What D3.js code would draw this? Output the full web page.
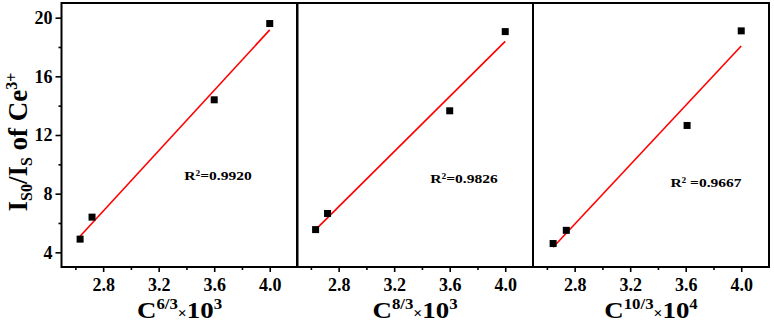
<!DOCTYPE html>
<html>
<head>
<meta charset="utf-8">
<script src="https://cdn.jsdelivr.net/npm/d3@7"></script>
<style>
  body { margin: 0; background: #fff; }
  text { font-family: "Liberation Serif", "Times New Roman", serif; font-weight: bold; fill: #000; }
</style>
</head>
<body>
<script>
// data
const xValues1 = [2.634, 2.72, 3.6, 4.0];
const yValues1 = [4.9, 6.4, 14.4, 19.6];
const xValues2 = [2.634, 2.72, 3.6, 4.0];
const yValues2 = [5.55, 6.65, 13.65, 19.05];
const xValues3 = [2.645, 2.74, 3.61, 4.0];
const yValues3 = [4.6, 5.5, 12.65, 19.1];
const r2Labels = ['R\u00b2=0.9920', 'R\u00b2=0.9826', 'R\u00b2 =0.9667'];
const xTitleMain = ['6/3', '8/3', '10/3'];
const xTitlePow = ['3', '3', '4'];
const xTicks = [2.8, 3.2, 3.6, 4.0];
const xMinorTicks = [2.6, 3.0, 3.4, 3.8];
const yTicks = [4, 8, 12, 16, 20];
const yMinorTicks = [6, 10, 14, 18];

const width = 774;
const height = 323;
const panelLeft = [61.5, 297, 533];
const panelWidth = 236;
const plotTop = 3, plotBottom = 267;

const svg = d3.select('body').append('svg')
  .attr('width', width)
  .attr('height', height);

const yScale = d3.scaleLinear().domain([3, 21]).range([plotBottom, plotTop]);

const panels = [
  {xs: xValues1, ys: yValues1},
  {xs: xValues2, ys: yValues2},
  {xs: xValues3, ys: yValues3}
];

// least squares fit
function fit(xs, ys) {
  const mx = d3.mean(xs), my = d3.mean(ys);
  const sxy = d3.sum(xs, (x, i) => (x - mx) * (ys[i] - my));
  const sxx = d3.sum(xs, x => (x - mx) * (x - mx));
  const b = sxy / sxx;
  return x => my + b * (x - mx);
}

const r2Pos = [[218, 180], [464, 182.5], [706, 186.5]];

panels.forEach((p, k) => {
  const x0 = panelLeft[k];
  const xScale = d3.scaleLinear().domain([2.5, 4.2]).range([x0, x0 + panelWidth]);
  const g = svg.append('g');

  // x axis ticks
  const xAxis = d3.axisBottom(xScale).tickValues(xTicks)
    .tickSize(5).tickPadding(5).tickFormat(d3.format('.1f'));
  const xg = g.append('g').attr('transform', `translate(0,${plotBottom})`).call(xAxis);
  xg.select('.domain').remove();
  xg.selectAll('line').attr('stroke-width', 1.6);
  xg.selectAll('text').attr('font-size', 18).attr('dy', '0.8em')
    .attr('font-family', '"Liberation Serif", serif');

  const xMinor = d3.axisBottom(xScale).tickValues(xMinorTicks).tickSize(3).tickFormat('');
  const xmg = g.append('g').attr('transform', `translate(0,${plotBottom})`).call(xMinor);
  xmg.select('.domain').remove();
  xmg.selectAll('line').attr('stroke-width', 1.6);

  if (k === 0) {
    const yAxis = d3.axisLeft(yScale).tickValues(yTicks).tickSize(6).tickPadding(3);
    const yg = g.append('g').attr('transform', `translate(${x0},0)`).call(yAxis);
    yg.select('.domain').remove();
    yg.selectAll('line').attr('stroke-width', 1.6);
    yg.selectAll('text').attr('font-size', 18)
      .attr('font-family', '"Liberation Serif", serif');
    const yMinor = d3.axisLeft(yScale).tickValues(yMinorTicks).tickSize(3).tickFormat('');
    const ymg = g.append('g').attr('transform', `translate(${x0},0)`).call(yMinor);
    ymg.select('.domain').remove();
    ymg.selectAll('line').attr('stroke-width', 1.6);
  }

  // frame
  g.append('rect')
    .attr('x', x0).attr('y', plotTop)
    .attr('width', panelWidth).attr('height', plotBottom - plotTop)
    .attr('fill', 'none').attr('stroke', '#000').attr('stroke-width', 2);

  // fit line
  const f = fit(p.xs, p.ys);
  const xMin = d3.min(p.xs), xMax = d3.max(p.xs);
  g.append('line')
    .attr('x1', xScale(xMin)).attr('y1', yScale(f(xMin)))
    .attr('x2', xScale(xMax)).attr('y2', yScale(f(xMax)))
    .attr('stroke', '#ff0000').attr('stroke-width', 1.6);

  // points
  g.selectAll('rect.pt')
    .data(p.xs.map((x, i) => [x, p.ys[i]]))
    .enter().append('rect')
    .attr('class', 'pt')
    .attr('x', d => xScale(d[0]) - 3.5)
    .attr('y', d => yScale(d[1]) - 3.5)
    .attr('width', 7).attr('height', 7)
    .attr('fill', '#000');

  // R^2 label
  g.append('text')
    .attr('transform', `translate(${r2Pos[k][0]},${r2Pos[k][1]}) scale(1.15,1)`)
    .attr('text-anchor', 'middle')
    .attr('font-size', 13.5)
    .text(r2Labels[k]);

  // x axis title
  const cx = x0 + panelWidth / 2;
  const t = g.append('text')
    .attr('transform', `translate(${cx},318) scale(1.12,1)`)
    .attr('text-anchor', 'middle')
    .attr('font-size', 24);
  t.append('tspan').text('C');
  t.append('tspan').attr('font-size', 15).attr('dy', -9).text(xTitleMain[k]);
  t.append('tspan').attr('font-size', 14).attr('dy', 9).text('\u00d7');
  t.append('tspan').text('10');
  t.append('tspan').attr('font-size', 15).attr('dy', -9).text(xTitlePow[k]);
});

// y axis title
const yt = svg.append('text')
  .attr('transform', 'translate(27,142) rotate(-90)')
  .attr('text-anchor', 'middle')
  .attr('font-size', 27);
yt.append('tspan').text('I');
yt.append('tspan').attr('font-size', 16).attr('dy', 5).text('S0');
yt.append('tspan').attr('dy', -5).text('/I');
yt.append('tspan').attr('font-size', 16).attr('dy', 5).text('S');
yt.append('tspan').attr('dy', -5).text(' of Ce');
yt.append('tspan').attr('font-size', 16).attr('dy', -10).text('3+');
</script>
</body>
</html>
